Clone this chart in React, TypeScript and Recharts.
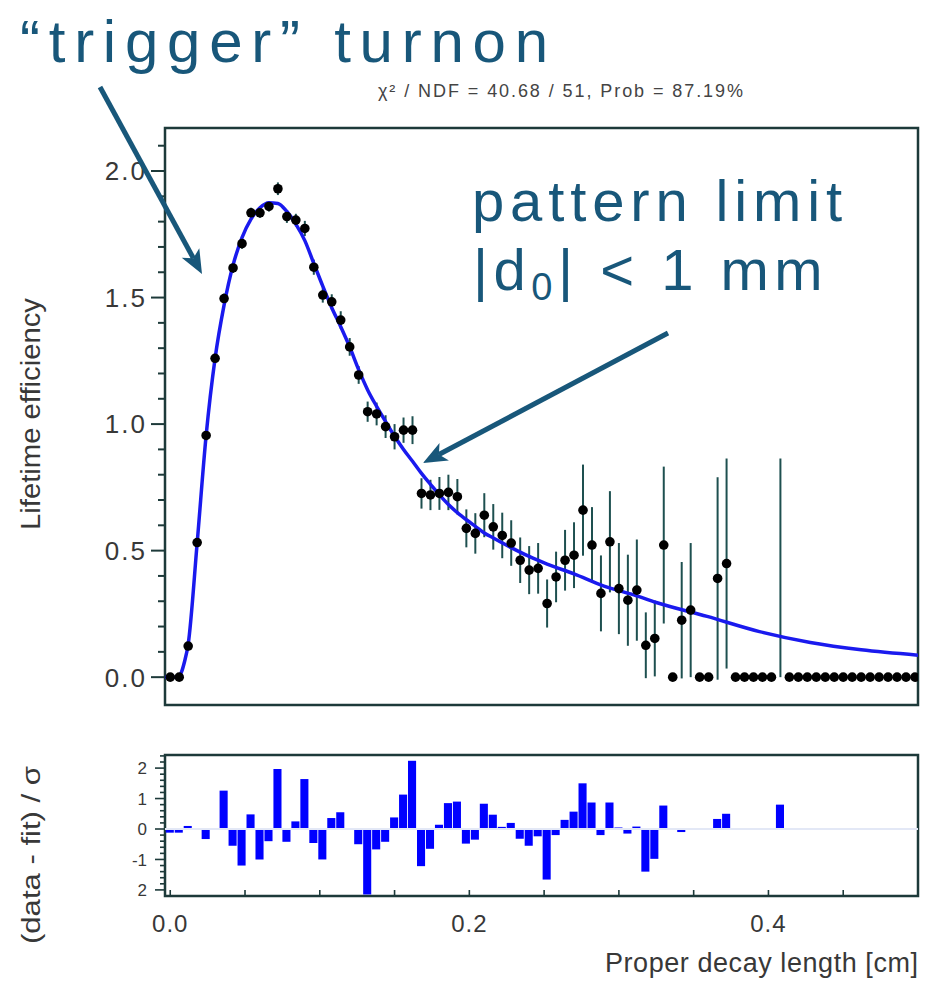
import React from 'react';
import {
  ComposedChart,
  Scatter,
  Line,
  Bar,
  XAxis,
  YAxis,
  ErrorBar,
  ReferenceArea,
  ReferenceLine,
} from 'recharts';

// ---------- data ----------
const BIN_WIDTH = 0.006; // bin i is centred on i * BIN_WIDTH
const X_MIN = -0.0035;
const X_MAX = 0.5;

const efficiency = [
  0, 0, 0.123, 0.532, 0.955, 1.26, 1.496, 1.617, 1.713, 1.835,
  1.835, 1.86, 1.93, 1.82, 1.806, 1.773, 1.62, 1.51, 1.483, 1.411,
  1.305, 1.194, 1.049, 1.04, 0.99, 0.95, 0.976, 0.976, 0.726, 0.72,
  0.726, 0.73, 0.713, 0.588, 0.568, 0.64, 0.594, 0.56, 0.53, 0.462,
  0.423, 0.43, 0.291, 0.396, 0.462, 0.482, 0.66, 0.522, 0.331, 0.535,
  0.35, 0.304, 0.344, 0.126, 0.153, 0.522, 0, 0.225, 0.265, 0,
  0, 0.39, 0.449, 0, 0, 0, 0, 0, 0.432, 0,
  0, 0, 0, 0, 0, 0, 0, 0, 0, 0,
  0, 0, 0, 0,
];

const efficiencyErr = [
  0, 0, 0.01, 0.015, 0.02, 0.02, 0.02, 0.02, 0.02, 0.02,
  0.02, 0.02, 0.025, 0.025, 0.025, 0.03, 0.03, 0.03, 0.03, 0.035,
  0.035, 0.035, 0.04, 0.045, 0.045, 0.05, 0.05, 0.055, 0.06, 0.06,
  0.065, 0.07, 0.07, 0.075, 0.08, 0.087, 0.09, 0.09, 0.09, 0.09,
  0.095, 0.1, 0.095, 0.1, 0.12, 0.13, 0.18, 0.15, 0.15, 0.2,
  0.18, 0.18, 0.2, 0.13, 0.15, 0.31, 0, 0.23, 0.265, 0,
  0, 0.4, 0.415, 0, 0, 0, 0, 0, 0.432, 0,
  0, 0, 0, 0, 0, 0, 0, 0, 0, 0,
  0, 0, 0, 0,
];

// bins drawn as an error bar without a marker
const hiddenMarkerBins = [68];

const residuals = [
  -0.12, -0.12, 0.1, 0.02, -0.33, 0.02, 1.26, -0.55, -1.2, 0.48,
  -1.0, -0.4, 1.97, -0.42, 0.25, 1.64, -0.46, -1.0, 0.36, 0.55,
  0.02, -0.5, -2.15, -0.67, -0.42, 0.38, 1.13, 2.24, -1.22, -0.65,
  0.14, 0.85, 0.9, -0.48, -0.35, 0.83, 0.47, 0.07, 0.2, -0.32,
  -0.55, -0.24, -1.66, -0.2, 0.3, 0.57, 1.5, 0.87, -0.2, 0.87,
  0.05, -0.15, 0.08, -1.4, -0.98, 0.77, 0, -0.1, 0, 0,
  0, 0.33, 0.5, 0, 0, 0, 0, 0, 0.8, 0,
  0, 0, 0, 0, 0, 0, 0, 0, 0, 0,
  0, 0, 0, 0,
];

const fitX = [
  -0.0035, 0.005, 0.0075, 0.0095, 0.012, 0.018, 0.024, 0.03, 0.036, 0.042,
  0.048, 0.054, 0.06, 0.066, 0.072, 0.078, 0.084, 0.09, 0.096, 0.102,
  0.108, 0.114, 0.12, 0.126, 0.132, 0.138, 0.144, 0.15, 0.156, 0.162,
  0.168, 0.174, 0.18, 0.186, 0.192, 0.198, 0.204, 0.21, 0.216, 0.228,
  0.24, 0.252, 0.27, 0.29, 0.31, 0.325, 0.359, 0.394, 0.428, 0.462,
  0.5,
];
const fitY = [
  0, 0, 0.02, 0.06, 0.13, 0.53, 0.955, 1.26, 1.47, 1.628,
  1.737, 1.81, 1.855, 1.875, 1.872, 1.84, 1.79, 1.725, 1.635, 1.545,
  1.46, 1.385, 1.305, 1.215, 1.135, 1.07, 1.01, 0.952, 0.9, 0.853,
  0.805, 0.762, 0.72, 0.682, 0.65, 0.622, 0.596, 0.57, 0.55, 0.512,
  0.477, 0.447, 0.408, 0.36, 0.325, 0.295, 0.24, 0.18, 0.137, 0.108,
  0.087,
];

const mainYDomain = [-0.11, 2.17];
const mainYTicks = [
  0, 0.1, 0.2, 0.3, 0.4, 0.5, 0.6, 0.7, 0.8, 0.9, 1.0,
  1.1, 1.2, 1.3, 1.4, 1.5, 1.6, 1.7, 1.8, 1.9, 2.0, 2.1,
];
const resYDomain = [-2.2, 2.43];
const resYTicks = [
  -2, -1.8, -1.6, -1.4, -1.2, -1, -0.8, -0.6, -0.4, -0.2, 0,
  0.2, 0.4, 0.6, 0.8, 1, 1.2, 1.4, 1.6, 1.8, 2, 2.2, 2.4,
];
const resYLabels: Record<string, string> = { '2': '2', '1': '1', '0': '0', '-1': '-1', '-2': '2' };
const xTicks = [0, 0.05, 0.1, 0.15, 0.2, 0.25, 0.3, 0.35, 0.4, 0.45, 0.5];
const xTickLabels = ['0.0', '', '', '', '0.2', '', '', '', '0.4', '', ''];

const points = efficiency.map((v, i) => ({
  x: i * BIN_WIDTH,
  y: v,
  err: efficiencyErr[i],
  hide: hiddenMarkerBins.includes(i),
}));
const resData = residuals.map((r, i) => ({ x: i * BIN_WIDTH, r }));
const fitData = fitX.map((x, i) => ({ x, y: fitY[i] }));

// ---------- style ----------
const FONT = '"Liberation Sans", Arial, Helvetica, sans-serif';
const FRAME = '#1d3a3a';
const TXT = '#383838';
const ANN = '#18577a';
const FIT = '#1a1aee';

const MainYTick = (props: any) => {
  const { x, y, payload } = props;
  const v = payload.value as number;
  const major = Math.abs(v * 2 - Math.round(v * 2)) < 1e-6;
  return (
    <g>
      <line x1={x - (major ? 14 : 7)} x2={x} y1={y} y2={y} stroke={FRAME} strokeWidth={2} />
      {major && (
        <text x={x - 18} y={y} dy="0.36em" textAnchor="end" fontSize={26} letterSpacing={2}
          fill={TXT} fontFamily={FONT}>
          {v.toFixed(1)}
        </text>
      )}
    </g>
  );
};

const ResYTick = (props: any) => {
  const { x, y, payload } = props;
  const v = payload.value as number;
  const major = Math.abs(v - Math.round(v)) < 1e-6;
  const label = major ? resYLabels[String(Math.round(v))] : '';
  return (
    <g>
      <line x1={x - (major ? 10 : 5)} x2={x} y1={y} y2={y} stroke={FRAME} strokeWidth={1.6} />
      {label && (
        <text x={x - 18} y={y} dy="0.36em" textAnchor="end" fontSize={17}
          fill={TXT} fontFamily={FONT}>
          {label}
        </text>
      )}
    </g>
  );
};

const ResXTick = (props: any) => {
  const { x, y, index } = props;
  const label = xTickLabels[index];
  return (
    <g>
      <line x1={x} x2={x} y1={y} y2={y - 6} stroke={FRAME} strokeWidth={1.6} />
      {label && (
        <text x={x} y={y + 36} textAnchor="middle" fontSize={24} letterSpacing={1}
          fill={TXT} fontFamily={FONT}>
          {label}
        </text>
      )}
    </g>
  );
};

const DataDot = (props: any) => {
  const { cx, cy, payload } = props;
  if (payload && payload.hide) return <g />;
  return <circle cx={cx} cy={cy} r={4.8} fill="#000" />;
};

const Arrow = ({ x1, y1, x2, y2 }: { x1: number; y1: number; x2: number; y2: number }) => {
  const ang = Math.atan2(y2 - y1, x2 - x1);
  const L = 24;
  const W = 10;
  const bx = x2 - L * Math.cos(ang);
  const by = y2 - L * Math.sin(ang);
  const px = -Math.sin(ang) * W;
  const py = Math.cos(ang) * W;
  const nx = x2 - (L - 6) * Math.cos(ang);
  const ny = y2 - (L - 6) * Math.sin(ang);
  return (
    <g>
      <line x1={x1} y1={y1} x2={nx} y2={ny} stroke={ANN} strokeWidth={5} />
      <polygon points={`${x2},${y2} ${bx + px},${by + py} ${nx},${ny} ${bx - px},${by - py}`} fill={ANN} />
    </g>
  );
};

export default function App() {
  return (
    <div style={{ position: 'absolute', left: 0, top: 0, width: 934, height: 981, background: '#fff', fontFamily: FONT }}>
      <div style={{ position: 'absolute', left: 0, top: 0 }}>
        <ComposedChart width={934} height={720} margin={{ top: 128, right: 16, bottom: 15, left: 0 }}>
          <XAxis type="number" dataKey="x" domain={[X_MIN, X_MAX]} allowDataOverflow hide />
          <YAxis
            type="number"
            dataKey="y"
            domain={mainYDomain}
            allowDataOverflow
            width={165}
            ticks={mainYTicks}
            interval={0}
            tickSize={0}
            tickMargin={0}
            axisLine={false}
            tickLine={false}
            tick={<MainYTick />}
          />
          <ReferenceArea
            x1={X_MIN}
            x2={X_MAX}
            y1={mainYDomain[0]}
            y2={mainYDomain[1]}
            fill="none"
            fillOpacity={0}
            stroke={FRAME}
            strokeWidth={2.5}
            ifOverflow="visible"
          />
          <Scatter data={points} dataKey="y" fill="#000" shape={<DataDot />} isAnimationActive={false}>
            <ErrorBar dataKey="err" direction="y" width={0} stroke="#1e5050" strokeWidth={2} isAnimationActive={false} />
          </Scatter>
          <Line
            data={fitData}
            dataKey="y"
            type="monotone"
            stroke={FIT}
            strokeWidth={3.5}
            dot={false}
            activeDot={false}
            isAnimationActive={false}
          />
        </ComposedChart>
      </div>
      <div style={{ position: 'absolute', left: 0, top: 740 }}>
        <ComposedChart width={934} height={241} data={resData} margin={{ top: 15, right: 16, bottom: 0, left: 0 }}>
          <XAxis
            type="number"
            dataKey="x"
            domain={[X_MIN, X_MAX]}
            allowDataOverflow
            height={85}
            ticks={xTicks}
            interval={0}
            tickSize={0}
            tickMargin={0}
            axisLine={false}
            tickLine={false}
            tick={<ResXTick />}
          />
          <YAxis
            type="number"
            domain={resYDomain}
            allowDataOverflow
            width={165}
            ticks={resYTicks}
            interval={0}
            tickSize={0}
            tickMargin={0}
            axisLine={false}
            tickLine={false}
            tick={<ResYTick />}
          />
          <ReferenceLine y={0} stroke="#e3e8f6" strokeWidth={2} />
          <Bar dataKey="r" fill="#0000ff" barSize={9} isAnimationActive={false} />
          <ReferenceArea
            x1={X_MIN}
            x2={X_MAX}
            y1={resYDomain[0]}
            y2={resYDomain[1]}
            fill="none"
            fillOpacity={0}
            stroke={FRAME}
            strokeWidth={2.5}
            ifOverflow="visible"
          />
        </ComposedChart>
      </div>
      <svg
        width={934}
        height={981}
        style={{ position: 'absolute', left: 0, top: 0, pointerEvents: 'none' }}
        fontFamily={FONT}
      >
        <text x={20} y={62} fontSize={60} fill={ANN} textLength={528} lengthAdjust="spacing">
          “trigger” turnon
        </text>
        <text x={378} y={97} fontSize={18} fill="#444" textLength={365} lengthAdjust="spacing">
          χ² / NDF = 40.68 / 51, Prob = 87.19%
        </text>
        <text x={472} y={221} fontSize={58} fill={ANN} textLength={370} lengthAdjust="spacing">
          pattern limit
        </text>
        <text x={473} y={290} fontSize={58} fill={ANN} letterSpacing={5.5}>
          <tspan>|d</tspan>
          <tspan dy={10} fontSize={38}>0</tspan>
          <tspan dy={-10}>| &lt; 1 mm</tspan>
        </text>
        <Arrow x1={100} y1={87} x2={202} y2={274} />
        <Arrow x1={668} y1={333} x2={423} y2={463} />
        <text transform="translate(40,414) rotate(-90)" textAnchor="middle" fontSize={27} fill={TXT}
          textLength={232} lengthAdjust="spacingAndGlyphs">
          Lifetime efficiency
        </text>
        <text transform="translate(40,855) rotate(-90)" textAnchor="middle" fontSize={25} fill={TXT}
          textLength={178} lengthAdjust="spacingAndGlyphs">
          (data - fit) / σ
        </text>
        <text x={605} y={972} fontSize={27} fill={TXT} textLength={313} lengthAdjust="spacing">
          Proper decay length [cm]
        </text>
      </svg>
    </div>
  );
}
